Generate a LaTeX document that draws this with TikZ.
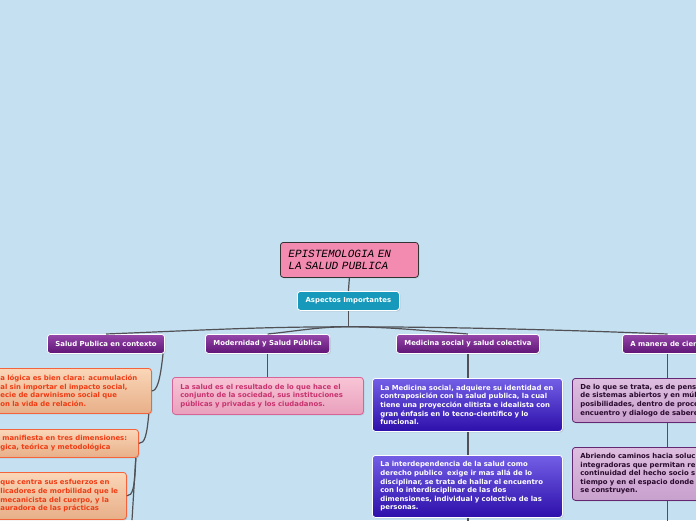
\documentclass[tikz,border=0pt]{standalone}
\usepackage{fontspec}
\setmainfont{DejaVu Sans}
\newfontfamily\rootfont{Liberation Mono}
\usetikzlibrary{calc,shadows}
\definecolor{bg}{RGB}{197,224,241}
\definecolor{rootpink}{RGB}{243,139,177}
\definecolor{tealc}{RGB}{22,153,186}
\definecolor{purtop}{RGB}{150,72,170}
\definecolor{purbot}{RGB}{95,20,118}
\definecolor{ortop}{RGB}{250,214,184}
\definecolor{orbot}{RGB}{231,175,136}
\definecolor{orline}{RGB}{244,100,60}
\definecolor{ortext}{RGB}{240,60,20}
\definecolor{pktop}{RGB}{248,196,214}
\definecolor{pkbot}{RGB}{233,160,188}
\definecolor{pkline}{RGB}{214,100,150}
\definecolor{pktext}{RGB}{200,50,110}
\definecolor{bltop}{RGB}{115,95,230}
\definecolor{blbot}{RGB}{45,15,170}
\definecolor{lvtop}{RGB}{222,190,224}
\definecolor{lvbot}{RGB}{200,160,205}
\definecolor{lvline}{RGB}{100,40,115}
\definecolor{lvtext}{RGB}{40,10,45}
\definecolor{connc}{RGB}{80,80,85}
\tikzset{
  base/.style={rounded corners=3pt, line width=0.8pt, align=left, anchor=north west,
    font=\bfseries\fontsize{6.9}{8.6}\selectfont, inner xsep=8pt, inner ysep=0pt,
    drop shadow={opacity=0.25, shadow xshift=1pt, shadow yshift=-1pt}},
  rootbox/.style={base, draw=black!80, fill=rootpink, text=black,
    font=\rootfont\itshape\fontsize{11}{12.5}\selectfont},
  aspbox/.style={base, draw=white, fill=tealc, text=white, align=center},
  hdr/.style={base, draw=white, top color=purtop, bottom color=purbot, text=white,
    minimum height=19pt, align=center},
  orbox/.style={base, draw=orline, top color=ortop, bottom color=orbot, text=ortext},
  pkbox/.style={base, draw=pkline, top color=pktop, bottom color=pkbot, text=pktext},
  blbox/.style={base, draw=white, top color=bltop, bottom color=blbot, text=white},
  lvbox/.style={base, draw=lvline, top color=lvtop, bottom color=lvbot, text=lvtext},
  conn/.style={draw=connc, line width=1.2pt}
}
\begin{document}
\begin{tikzpicture}[x=1pt,y=-1pt]
\useasboundingbox (0,0) rectangle (696,520);
\fill[bg] (0,0) rectangle (696,520);
\clip (0,0) rectangle (696,520);

\node[rootbox, minimum width=138pt, minimum height=35pt, text width=122pt] (root) at (280,242)
  {EPISTEMOLOGIA EN\\LA SALUD PUBLICA};
\node[aspbox, minimum width=102pt, minimum height=19pt] (asp) at (297,291) {Aspectos Importantes};

\node[hdr, minimum width=116pt] (h1) at (47,334) {Salud Publica en contexto};
\node[hdr, minimum width=124pt] (h2) at (205,334) {Modernidad y Salud Pública};
\node[hdr, minimum width=142pt] (h3) at (396,334) {Medicina social y salud colectiva};
\node[hdr] (h4) at (622,334) {A manera de cierre};

\node[orbox, minimum width=159pt, minimum height=45pt, text width=143pt] (o1) at (-8,368)
  {a lógica es bien clara: acumulación\\al sin importar el impacto social,\\ecie de darwinismo social que\\on la vida de relación.};
\node[orbox, minimum width=146pt, minimum height=28pt, text width=130pt] (o2) at (-8,429)
  {\hspace{2pt}manifiesta en tres dimensiones:\\gica, teórica y metodológica};
\node[orbox, minimum width=134pt, minimum height=47pt, text width=118pt] (o3) at (-8,472)
  {que centra sus esfuerzos en\\licadores de morbilidad que le\\mecanicista del cuerpo, y la\\auradora de las prácticas};

\node[pkbox, minimum width=191pt, minimum height=37pt, text width=175pt] (p1) at (172,377)
  {La salud es el resultado de lo que hace el\\conjunto de la sociedad, sus instituciones\\públicas y privadas y los ciudadanos.};

\node[blbox, minimum width=190pt, minimum height=53pt, text width=174pt] (b1) at (372,378)
  {La Medicina social, adquiere su identidad en\\contraposición con la salud publica, la cual\\tiene una proyección elitista e idealista con\\gran énfasis en lo tecno-científico y lo\\funcional.};
\node[blbox, minimum width=190pt, minimum height=62pt, text width=174pt] (b2) at (372,455)
  {La interdependencia de la salud como\\derecho publico\ \ exige ir mas allá de lo\\disciplinar, se trata de hallar el encuentro\\con lo interdisciplinar de las dos\\dimensiones, individual y colectiva de las\\personas.};

\node[lvbox, minimum width=228pt, minimum height=44pt, text width=212pt] (l1) at (572,378)
  {De lo que se trata, es de pensar\\de sistemas abiertos y en múltiples\\posibilidades, dentro de procesos\\encuentro y dialogo de saberes};
\node[lvbox, minimum width=228pt, minimum height=53pt, text width=212pt] (l2) at (572,447)
  {Abriendo caminos hacia soluciones\\integradoras que permitan re\\continuidad del hecho socio s\\tiempo y en el espacio donde\\se construyen.};

% connectors
\draw[conn] (root.south) -- (asp.north);
\coordinate (j) at ($(asp.south)+(0,16)$);
\draw[conn] (asp.south) -- (j);
\draw[conn] (j) .. controls +(-90,0) and +(100,-4) .. (h1.north);
\draw[conn] (j) .. controls +(-30,0) and +(30,-3) .. (h2.north);
\draw[conn] (j) .. controls +(40,0) and +(-40,-3) .. (h3.north);
\draw[conn] (j) .. controls +(100,0) and +(-100,-4) .. (h4.north);

\coordinate (a1) at ($(h1.south east)+(-2,0)$);
\draw[conn] (a1) .. controls +(-3,28) and +(5,0) .. (o1.east);
\coordinate (a2) at ($(o1.south east)+(-3,0)$);
\draw[conn] (a2) .. controls +(-2,22) and +(6,0) .. (o2.east);
\coordinate (a3) at ($(o2.south east)+(-3,0)$);
\draw[conn] (a3) .. controls +(-1,30) and +(6,0) .. (o3.east);
\coordinate (e1) at (132,520);
\draw[conn] (a3) -- (e1);

\draw[conn] (h2.south) -- (h2.south |- p1.north);
\draw[conn] (h3.south) -- (h3.south |- b1.north);
\draw[conn] (h3.south |- b1.south) -- (h3.south |- b2.north);
\coordinate (e2) at ($(h3.south)+(0,200)$);
\draw[conn] (h3.south |- b2.south) -- (e2);

\draw[conn] (h4.south) -- (h4.south |- l1.north);
\draw[conn] (h4.south |- l1.south) -- (h4.south |- l2.north);
\coordinate (e3) at ($(h4.south)+(0,200)$);
\draw[conn] (h4.south |- l2.south) -- (e3);
\end{tikzpicture}
\end{document}
